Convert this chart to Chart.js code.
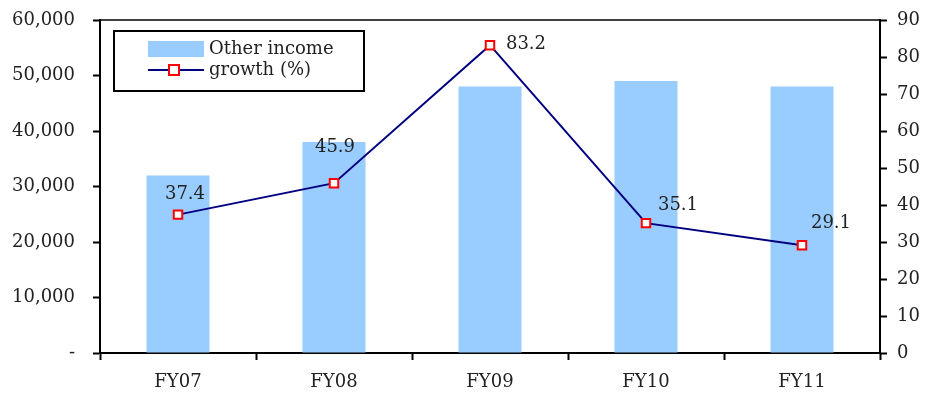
<!DOCTYPE html>
<html>
<head>
<meta charset="utf-8">
<script src="https://cdn.jsdelivr.net/npm/chart.js@4.4.1/dist/chart.umd.min.js"></script>
<style>
  html, body { margin: 0; padding: 0; background: #fff; }
  #wrap { width: 927px; height: 395px; }
</style>
</head>
<body>
<div id="wrap"><canvas id="incomeChart"></canvas></div>
<script>
// data
const categories = ["FY07", "FY08", "FY09", "FY10", "FY11"];
const otherIncome = [32000, 38000, 48000, 49000, 48000];
const growthPct = [37.4, 45.9, 83.2, 35.1, 29.1];

const FONT = "'DejaVu Serif', 'Liberation Serif', serif";

// label offset dari titik (dx, dy)
const labelOffsets = [[7, -20], [1, -36], [36, -1], [32, -18], [29, -22]];

// label angka di garis
const pointLabels = {
    id: "pointLabels",
    afterDatasetsDraw(chart) {
        const meta = chart.getDatasetMeta(0);
        const c = chart.ctx;
        c.save();
        c.font = "18px " + FONT;
        c.fillStyle = "#222";
        c.textAlign = "center";
        c.textBaseline = "middle";
        meta.data.forEach((pt, i) => {
            const off = labelOffsets[i];
            c.fillText(growthPct[i].toFixed(1), pt.x + off[0], pt.y + off[1]);
        });
        c.restore();
    }
};

// garis atas plot + legend di dalam plot
const frameAndLegend = {
    id: "frameAndLegend",
    afterDraw(chart) {
        const c = chart.ctx;
        const a = chart.chartArea;
        c.save();
        c.strokeStyle = "#000";
        c.lineWidth = 1.5;
        c.beginPath();
        c.moveTo(a.left, a.top);
        c.lineTo(a.right, a.top);
        c.stroke();

        // kotak legend
        const lx = a.left + 14, ly = a.top + 11, lw = 250, lh = 60;
        c.lineWidth = 2;
        c.fillStyle = "#fff";
        c.fillRect(lx, ly, lw, lh);
        c.strokeRect(lx, ly, lw, lh);

        c.fillStyle = "#99CCFF";
        c.fillRect(lx + 34, ly + 10, 56, 16);

        c.strokeStyle = "#000080";
        c.lineWidth = 2;
        c.beginPath();
        c.moveTo(lx + 34, ly + 39);
        c.lineTo(lx + 90, ly + 39);
        c.stroke();
        c.fillStyle = "#fff";
        c.strokeStyle = "#ff0000";
        c.fillRect(lx + 55, ly + 34, 10, 10);
        c.strokeRect(lx + 55, ly + 34, 10, 10);

        c.font = "18px " + FONT;
        c.fillStyle = "#222";
        c.textBaseline = "middle";
        c.textAlign = "left";
        c.fillText("Other income", lx + 95, ly + 18);
        c.fillText("growth (%)", lx + 95, ly + 39);
        c.restore();
    }
};

// tanpa padding otomatis dari label sumbu
function noAxisPad(axis) {
    axis.paddingTop = 0;
    axis.paddingBottom = 0;
    axis.paddingLeft = 0;
    axis.paddingRight = 0;
}

let ctx = document.getElementById("incomeChart").getContext("2d");

let incomeChart = new Chart(ctx, {
    data: {
        labels: categories,
        datasets: [
            {
                type: "line",
                label: "growth (%)",
                data: growthPct,
                yAxisID: "y1",
                borderColor: "#000080",
                borderWidth: 2,
                pointStyle: "rect",
                pointRadius: 6,
                pointBackgroundColor: "#fff",
                pointBorderColor: "#ff0000",
                pointBorderWidth: 2,
                tension: 0,
                order: 0
            },
            {
                type: "bar",
                label: "Other income",
                data: otherIncome,
                yAxisID: "y",
                backgroundColor: "#99CCFF",
                categoryPercentage: 1.0,
                barPercentage: 0.404,
                order: 1
            }
        ]
    },
    options: {
        responsive: true,
        maintainAspectRatio: false,
        animation: false,
        layout: { padding: { top: 20, left: 0, right: 0, bottom: 0 } },
        plugins: {
            legend: { display: false },
            tooltip: { enabled: false }
        },
        scales: {
            x: {
                offset: true,
                grid: {
                    offset: true,
                    drawOnChartArea: false,
                    drawTicks: true,
                    tickLength: 7,
                    tickWidth: 2,
                    color: "#000"
                },
                border: { color: "#000", width: 2 },
                ticks: { color: "#222", font: { family: FONT, size: 18 }, padding: 12 },
                afterFit: (axis) => { axis.height = 42; noAxisPad(axis); }
            },
            y: {
                position: "left",
                min: 0,
                max: 60000,
                grid: {
                    drawOnChartArea: false,
                    tickLength: 7,
                    tickWidth: 2,
                    color: "#000"
                },
                border: { color: "#000", width: 2 },
                ticks: {
                    stepSize: 10000,
                    color: "#222",
                    padding: 18,
                    font: { family: FONT, size: 18 },
                    callback: (v) => v === 0 ? "-" : v.toLocaleString("en-US")
                },
                afterFit: (axis) => { axis.width = 100; noAxisPad(axis); }
            },
            y1: {
                position: "right",
                min: 0,
                max: 90,
                grid: {
                    drawOnChartArea: false,
                    tickLength: 7,
                    tickWidth: 2,
                    color: "#000"
                },
                border: { color: "#000", width: 2 },
                ticks: {
                    stepSize: 10,
                    color: "#222",
                    padding: 10,
                    font: { family: FONT, size: 18 }
                },
                afterFit: (axis) => { axis.width = 47; noAxisPad(axis); }
            }
        }
    },
    plugins: [pointLabels, frameAndLegend]
});
</script>
</body>
</html>
